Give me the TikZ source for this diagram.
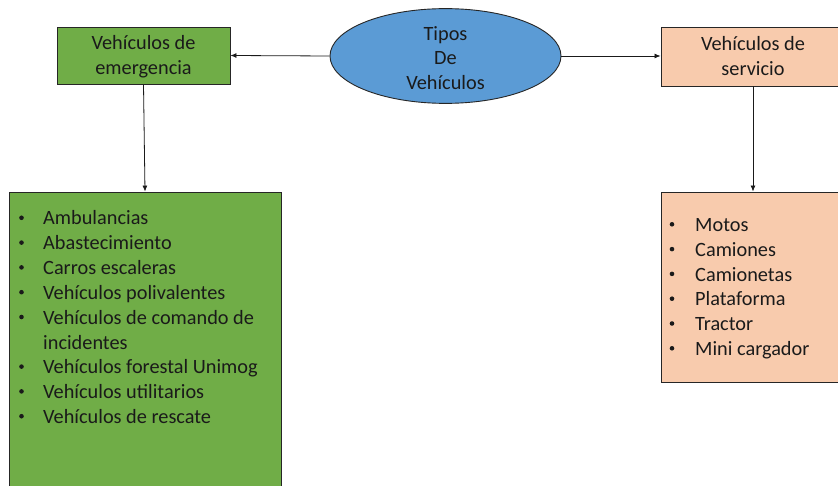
\documentclass[tikz,border=0pt]{standalone}
\usepackage{fontspec}
\setmainfont{Carlito}
\usetikzlibrary{shapes.geometric,arrows.meta}
\definecolor{emgreen}{HTML}{70AD47}
\definecolor{servpeach}{HTML}{F8CBAD}
\definecolor{typeblue}{HTML}{5B9BD5}
\definecolor{edge}{HTML}{262626}
\definecolor{ink}{HTML}{1A1A1A}
\tikzset{
  txt/.style={font=\fontsize{20.3}{25}\selectfont, text=ink},
  headbox/.style={draw=edge, line width=0.9pt, rectangle, txt, align=center, inner sep=0pt,
    text height=39pt, text depth=0pt},
  listbox/.style={draw=edge, line width=0.9pt, rectangle, inner sep=0pt},
  item/.style={txt, anchor=base west, inner sep=0pt},
  bul/.style={circle, fill=ink, minimum size=4.6pt, inner sep=0pt},
  link/.style={draw=ink, line width=0.8pt, -{Latex[length=6pt,width=5pt]}}
}
\begin{document}
\begin{tikzpicture}[x=1pt,y=-1pt]
\useasboundingbox (0,0) rectangle (838,486);
\clip (0,0) rectangle (838,486);
\fill[white] (0,0) rectangle (838,486);

% top row
\node[headbox, fill=emgreen, minimum width=173pt, minimum height=57pt] (ghead) at (143.5,55.5)
  {Vehículos de\\emergencia};
\node[ellipse, draw=edge, line width=0.9pt, fill=typeblue, minimum width=231pt, minimum height=86pt,
  inner sep=0pt, font=\fontsize{20.3}{24.5}\selectfont, text=ink, align=center,
  text height=67pt, text depth=0pt] (tipos) at (445.5,56) {Tipos\\De\\Vehículos};
\node[headbox, fill=servpeach, minimum width=184pt, minimum height=59pt] (shead) at (753,56.5)
  {Vehículos de\\servicio};

% list boxes
\node[listbox, fill=emgreen, minimum width=272pt, minimum height=308pt] (glist) at (145,346) {};
\node[listbox, fill=servpeach, minimum width=184pt, minimum height=190pt] (slist) at (753,287) {};

% connectors
\draw[link] (tipos.west) -- (ghead.east);
\draw[link] (tipos.east) -- (shead.west |- tipos.east);
\draw[link] (ghead.south) -- (glist.north);
\draw[link] (shead.south) -- (slist.north);

% emergency vehicles
\foreach \t/\b [count=\i from 0] in {Ambulancias/1, Abastecimiento/1, Carros escaleras/1,
    Vehículos polivalentes/1, Vehículos de comando de/1, incidentes/0,
    Vehículos forestal Unimog/1, Vehículos utilitarios/1, Vehículos de rescate/1} {
  \pgfmathsetmacro{\yb}{225+24.8*\i}
  \node[item] (gi\i) at (43,\yb) {\t};
  \ifnum\b=1 \node[bul] (gb\i) at (21.5,\yb-7.2) {}; \fi
}

% service vehicles
\foreach \t [count=\i from 0] in {Motos, Camiones, Camionetas, Plataforma, Tractor, Mini cargador} {
  \pgfmathsetmacro{\yb}{231.5+24.8*\i}
  \node[item] (si\i) at (695,\yb) {\t};
  \node[bul] (sb\i) at (672,\yb-7.2) {};
}
\end{tikzpicture}
\end{document}
